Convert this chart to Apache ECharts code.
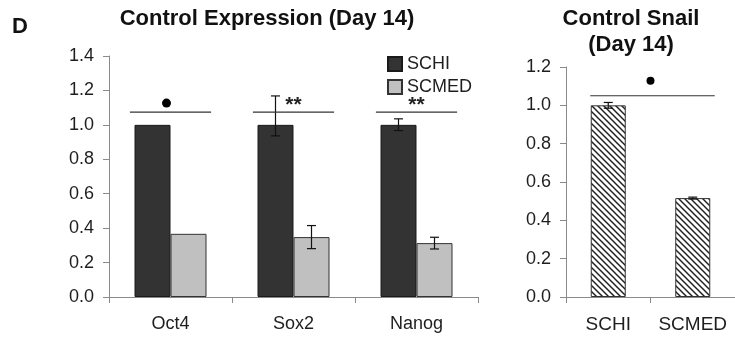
<!DOCTYPE html>
<html><head><meta charset="utf-8">
<script src="https://cdn.jsdelivr.net/npm/echarts@6/dist/echarts.min.js"></script>
<style>html,body{margin:0;padding:0;background:#fff}#c{width:735px;height:339px}</style>
</head><body><div id="c"></div>
<script>
// ---- data ----
const genes = ['Oct4', 'Sox2', 'Nanog'];
const schiValues = [1.0, 1.0, 1.0];
const schiErrLow = [null, 0.936, 0.967];
const schiErrHigh = [null, 1.168, 1.035];
const scmedValues = [0.367, 0.348, 0.313];
const scmedErrLow = [null, 0.281, 0.279];
const scmedErrHigh = [null, 0.415, 0.347];
const sigLevels = [1.074, 1.074, 1.074];
const sigMarks = ['dot', '**', '**'];

const snailGroups = ['SCHI', 'SCMED'];
const snailValues = [1.0, 0.516];
const snailErrLow = [0.985, 0.511];
const snailErrHigh = [1.015, 0.521];
const snailSigLevel = 1.05;

const leftAxis = {min: 0, max: 1.4, interval: 0.2};
const rightAxis = {min: 0, max: 1.2, interval: 0.2};

// ---- helpers ----
const FONT = "'Liberation Sans', Arial, sans-serif";
const AXIS_COLOR = '#8a8a8a';
const TEXT_COLOR = '#1e1e1e';

function errData(lo, hi) {
  const out = [];
  lo.forEach((l, i) => { if (l != null && hi[i] != null) out.push([i, l, hi[i]]); });
  return out;
}
function errRender(offset) {
  return function (params, api) {
    const x = api.value(0);
    const pLo = api.coord([x, api.value(1)]);
    const pHi = api.coord([x, api.value(2)]);
    const cx = pLo[0] + offset, cap = 4.5;
    const st = {stroke: '#111', lineWidth: 1.2};
    return {type: 'group', children: [
      {type: 'line', shape: {x1: cx, y1: pLo[1], x2: cx, y2: pHi[1]}, style: st},
      {type: 'line', shape: {x1: cx - cap, y1: pHi[1], x2: cx + cap, y2: pHi[1]}, style: st},
      {type: 'line', shape: {x1: cx - cap, y1: pLo[1], x2: cx + cap, y2: pLo[1]}, style: st}
    ]};
  };
}
function hatch() {
  const s = 6;
  const c = document.createElement('canvas');
  c.width = s; c.height = s;
  const g = c.getContext('2d');
  g.fillStyle = '#fff'; g.fillRect(0, 0, s, s);
  g.strokeStyle = '#222'; g.lineWidth = 1.5;
  for (let k = -1; k <= 1; k++) {
    g.beginPath(); g.moveTo(k * s - 1, -1); g.lineTo(k * s + s + 1, s + 1); g.stroke();
  }
  return c;
}

const axisCommonX = {
  type: 'category',
  axisLine: {lineStyle: {color: AXIS_COLOR, width: 1}},
  axisTick: {show: true, length: 6, lineStyle: {color: AXIS_COLOR}},
  axisLabel: {color: TEXT_COLOR, fontFamily: FONT, fontSize: 18, margin: 18, interval: 0, hideOverlap: false}
};
const axisCommonY = {
  type: 'value',
  axisLine: {show: true, lineStyle: {color: AXIS_COLOR, width: 1}},
  axisTick: {show: true, length: 6, lineStyle: {color: AXIS_COLOR}},
  splitLine: {show: false},
  axisLabel: {color: TEXT_COLOR, fontFamily: FONT, fontSize: 18, margin: 15, formatter: v => v.toFixed(1)}
};

const chart = echarts.init(document.getElementById('c'));
chart.setOption({
  animation: false,
  backgroundColor: '#fff',
  textStyle: {fontFamily: FONT},
  grid: [
    {left: 109, right: 257, top: 56, bottom: 42},
    {left: 566, right: -3, top: 67, bottom: 42}
  ],
  xAxis: [
    Object.assign({}, axisCommonX, {gridIndex: 0, data: genes}),
    Object.assign({}, axisCommonX, {gridIndex: 1, data: snailGroups,
      axisLabel: Object.assign({}, axisCommonX.axisLabel, {fontSize: 19})})
  ],
  yAxis: [
    Object.assign({}, axisCommonY, {gridIndex: 0}, leftAxis),
    Object.assign({}, axisCommonY, {gridIndex: 1}, rightAxis)
  ],
  legend: {
    orient: 'vertical', left: 382, top: 50, itemWidth: 14, itemHeight: 14, itemGap: 5,
    icon: 'rect', data: ['SCHI', 'SCMED'],
    textStyle: {fontFamily: FONT, fontSize: 18, color: TEXT_COLOR}
  },
  graphic: [
    {type: 'text', x: 12, y: 27, style: {text: 'D', font: 'bold 22px ' + FONT, fill: '#111', textVerticalAlign: 'middle'}},
    {type: 'text', x: 267, y: 19, style: {text: 'Control Expression (Day 14)', font: 'bold 22px ' + FONT, fill: '#111', textAlign: 'center', textVerticalAlign: 'middle'}},
    {type: 'text', x: 631, y: 19, style: {text: 'Control Snail', font: 'bold 22px ' + FONT, fill: '#111', textAlign: 'center', textVerticalAlign: 'middle'}},
    {type: 'text', x: 631, y: 45, style: {text: '(Day 14)', font: 'bold 22px ' + FONT, fill: '#111', textAlign: 'center', textVerticalAlign: 'middle'}}
  ],
  series: [
    {name: 'SCHI', type: 'bar', xAxisIndex: 0, yAxisIndex: 0, data: schiValues, barWidth: 36, barGap: '0%',
      itemStyle: {color: '#333333', borderColor: '#1a1a1a', borderWidth: 1}},
    {name: 'SCMED', type: 'bar', xAxisIndex: 0, yAxisIndex: 0, data: scmedValues, barWidth: 36, barGap: '0%',
      itemStyle: {color: '#c0c0c0', borderColor: '#333', borderWidth: 1}},
    {type: 'custom', xAxisIndex: 0, yAxisIndex: 0, z: 5, data: errData(schiErrLow, schiErrHigh), renderItem: errRender(-18)},
    {type: 'custom', xAxisIndex: 0, yAxisIndex: 0, z: 5, data: errData(scmedErrLow, scmedErrHigh), renderItem: errRender(18)},
    {type: 'custom', xAxisIndex: 0, yAxisIndex: 0, z: 5, data: sigLevels.map((v, i) => [i, v]),
      renderItem: function (params, api) {
        const p = api.coord([api.value(0), api.value(1)]);
        const half = api.size([1, 0])[0] * 0.33;
        const mark = sigMarks[params.dataIndex];
        const children = [{type: 'line', shape: {x1: p[0] - half, y1: p[1], x2: p[0] + half, y2: p[1]}, style: {stroke: '#333', lineWidth: 1.2}}];
        if (mark === 'dot') children.push({type: 'circle', shape: {cx: p[0] - 4, cy: p[1] - 9, r: 4.5}, style: {fill: '#000'}});
        else children.push({type: 'text', x: p[0], y: p[1] - 7, style: {text: mark, font: 'bold 21px ' + FONT, fill: '#222', textAlign: 'center', textVerticalAlign: 'middle'}});
        return {type: 'group', children: children};
      }},
    {name: 'Snail', type: 'bar', xAxisIndex: 1, yAxisIndex: 1, data: snailValues, barWidth: 35,
      itemStyle: {color: {image: hatch(), repeat: 'repeat'}, borderColor: '#333', borderWidth: 1}},
    {type: 'custom', xAxisIndex: 1, yAxisIndex: 1, z: 5, data: errData(snailErrLow, snailErrHigh), renderItem: errRender(0)},
    {type: 'custom', xAxisIndex: 1, yAxisIndex: 1, z: 5, data: [[0, snailSigLevel]],
      renderItem: function (params, api) {
        const p0 = api.coord([0, api.value(1)]);
        const p1 = api.coord([1, api.value(1)]);
        const mid = (p0[0] + p1[0]) / 2;
        return {type: 'group', children: [
          {type: 'line', shape: {x1: p0[0] - 18, y1: p0[1], x2: p1[0] + 22, y2: p1[1]}, style: {stroke: '#333', lineWidth: 1.2}},
          {type: 'circle', shape: {cx: mid, cy: p0[1] - 15, r: 4}, style: {fill: '#000'}}
        ]};
      }}
  ]
});
</script></body></html>
